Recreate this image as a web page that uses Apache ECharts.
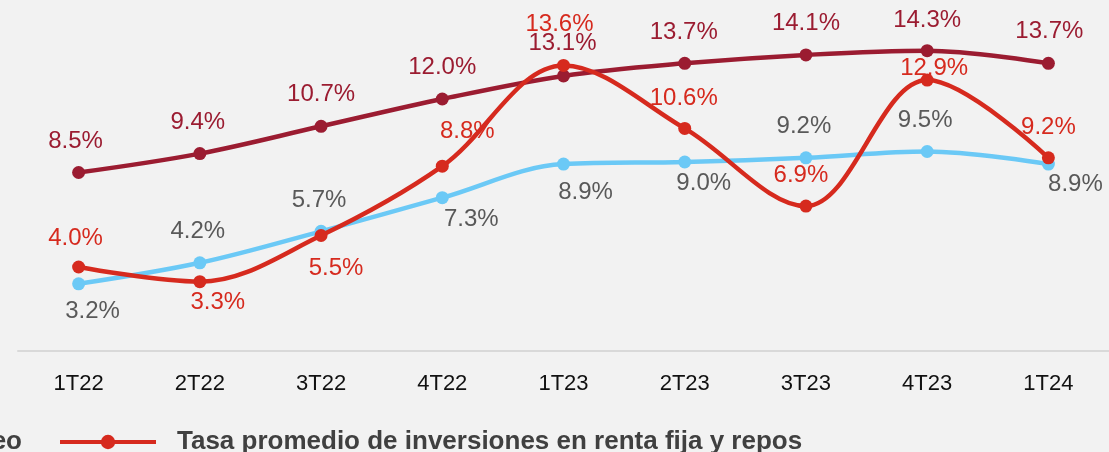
<!DOCTYPE html>
<html>
<head>
<meta charset="utf-8">
<script src="https://cdn.jsdelivr.net/npm/echarts@6/dist/echarts.min.js"></script>
<style>
html,body{margin:0;padding:0;background:#F2F2F2;}
#c{width:1109px;height:452px;}
</style>
</head>
<body>
<div id="c"></div>
<script>
// ---- data ----
const categories = ['1T22','2T22','3T22','4T22','1T23','2T23','3T23','4T23','1T24'];
const cartera   = [8.5, 9.4, 10.7, 12.0, 13.1, 13.7, 14.1, 14.3, 13.7];
const fondeo    = [3.2, 4.2, 5.7, 7.3, 8.9, 9.0, 9.2, 9.5, 8.9];
const inversion = [4.0, 3.3, 5.5, 8.8, 13.6, 10.6, 6.9, 12.9, 9.2];
const names = {
  cartera: 'Tasa promedio de cartera',
  fondeo: 'Tasa promedio de fondeo',
  inversion: 'Tasa promedio de inversiones en renta fija y repos'
};

// ---- label placement (style) ----
const carteraOff   = [[-3,-31],[-2,-31],[0,-32],[0,-32],[-1,-33],[-1,-31],[0,-32],[0,-30],[1,-32]];
const fondeoOff    = [[14,28],[-2,-31],[-2,-31],[29,22],[22,28],[19,21],[-2,-31],[-2,-31],[27,20]];
const inversionOff = [[-3,-29],[18,21],[15,33],[25,-35],[-4,-41],[-1,-30],[-5,-31],[7,-12],[0,-30]];

function withLabels(values, offs, color){
  return values.map((v,i)=>({
    value: v,
    label: {show:true, position:'inside', offset: offs[i], color: color}
  }));
}

const font = 'Liberation Sans, Arial, sans-serif';
const chart = echarts.init(document.getElementById('c'), null, {renderer:'canvas'});
const labelBase = {
  show:true, fontFamily: font, fontSize: 24,
  formatter: p => p.value.toFixed(1) + '%'
};

chart.setOption({
  backgroundColor: '#F2F2F2',
  animation: false,
  grid: {left: 18, right: -5, top: 15, bottom: 101},
  legend: [
    {
      data: [names.fondeo], right: 1087, top: 429, padding: 0,
      selectedMode: false, itemWidth: 96, itemHeight: 18, itemGap: 20,
      lineStyle: {width: 4},
      textStyle: {fontFamily: font, fontSize: 26, fontWeight: 'bold', color: '#404040'}
    },
    {
      data: [names.inversion], left: 58, top: 429, padding: 0,
      selectedMode: false, itemWidth: 96, itemHeight: 18,
      lineStyle: {width: 4},
      textStyle: {fontFamily: font, fontSize: 26, fontWeight: 'bold', color: '#404040', padding:[0,0,0,16]}
    }
  ],
  xAxis: {
    type: 'category', data: categories, boundaryGap: true,
    axisLine: {show:true, lineStyle: {color:'#D9D9D9', width:2}},
    axisTick: {show:false},
    axisLabel: {color:'#111111', fontFamily: font, fontSize: 22, margin: 22}
  },
  yAxis: {
    type: 'value', min: 0, max: 16, interval: 2,
    show: false, splitLine: {show:false}
  },
  series: [
    {
      name: names.cartera, type: 'line', smooth: 0.35,
      data: withLabels(cartera, carteraOff, '#9B1C31'),
      symbol: 'circle', symbolSize: 13,
      lineStyle: {color:'#9B1C31', width: 4.5},
      itemStyle: {color:'#9B1C31'},
      label: labelBase, z: 2
    },
    {
      name: names.fondeo, type: 'line', smooth: 0.35,
      data: withLabels(fondeo, fondeoOff, '#595959'),
      symbol: 'circle', symbolSize: 13,
      lineStyle: {color:'#6BC9F6', width: 4.5},
      itemStyle: {color:'#6BC9F6'},
      label: labelBase, z: 3
    },
    {
      name: names.inversion, type: 'line', smooth: 0.35,
      data: withLabels(inversion, inversionOff, '#D62A1E'),
      symbol: 'circle', symbolSize: 13,
      lineStyle: {color:'#D62A1E', width: 4.5},
      itemStyle: {color:'#D62A1E'},
      label: labelBase, z: 4
    }
  ]
});
</script>
</body>
</html>
